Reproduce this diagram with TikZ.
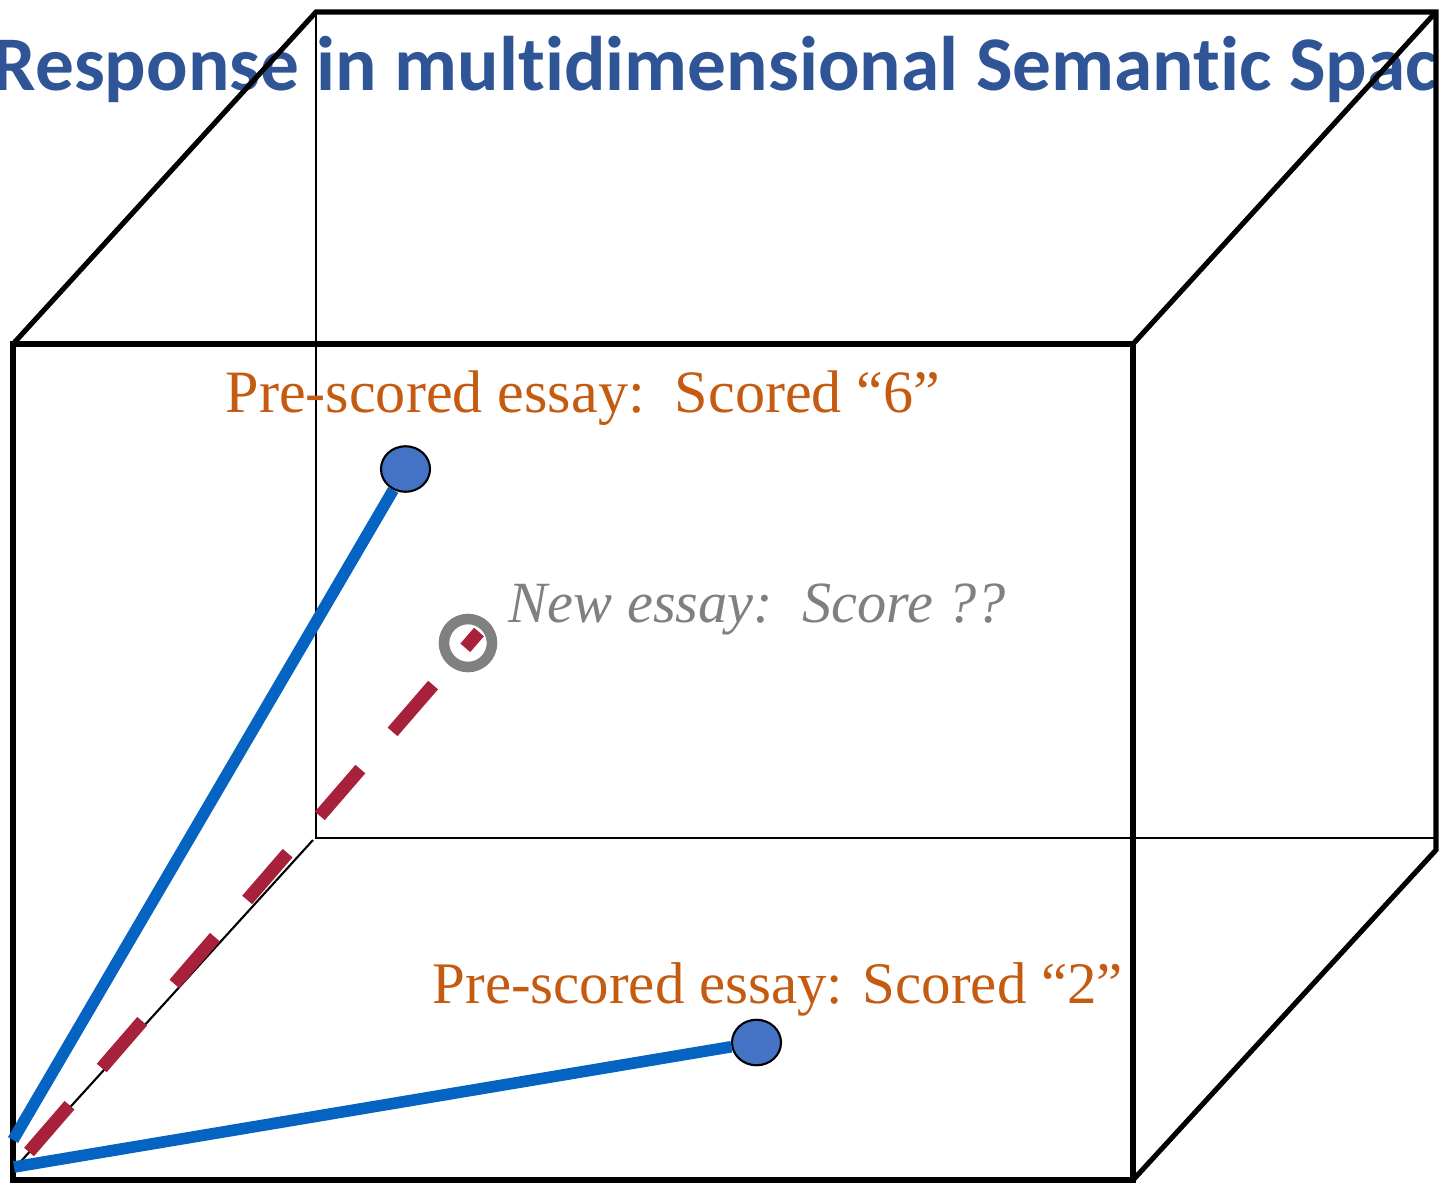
\documentclass[tikz,border=0pt]{standalone}
\usepackage{fontspec}
\setmainfont{Liberation Serif}
\newfontfamily\titlefont[Ligatures=NoCommon]{Carlito}
\usetikzlibrary{shapes.geometric,calc}
\definecolor{titleblue}{RGB}{47,85,151}
\definecolor{vecblue}{RGB}{5,99,193}
\definecolor{dotblue}{RGB}{68,114,196}
\definecolor{scoreorange}{RGB}{197,90,17}
\definecolor{newred}{RGB}{166,33,57}
\definecolor{newgray}{RGB}{128,128,128}

\begin{document}
\begin{tikzpicture}[x=0.01cm,y=-0.01cm,
  boxedge/.style={line width=1.45pt},
  hiddenedge/.style={line width=0.6pt},
  vec/.style={vecblue, line width=3.3pt},
  dot/.style={ellipse, draw=black, line width=0.6pt, fill=dotblue, inner sep=0pt,
    minimum width=0.49cm, minimum height=0.455cm},
  scorelabel/.style={anchor=base west, inner sep=0pt, text=scoreorange,
    font=\fontsize{17.1}{20}\selectfont}]
  \useasboundingbox (0,0) rectangle (1448,1184);
  % title, cut by the page edges
  \node[anchor=base west, inner sep=0pt, text=titleblue,
    font=\titlefont\bfseries\fontsize{22}{26}\selectfont] (title) at (-8,90)
    {Response in multidimensional Semantic Spac};
  % the box
  \coordinate (f1) at (13,344);
  \coordinate (f2) at (1133,344);
  \coordinate (f3) at (1133,1180);
  \coordinate (f4) at (13,1180);
  \coordinate (b1) at (316,12);
  \coordinate (b2) at (1436,12);
  \coordinate (b3) at (1436,850);
  \draw[hiddenedge] (b1) -- (316,838) -- (1436,838);
  \draw[hiddenedge] (13,1170) -- (313,840);
  \draw[boxedge] (f1) rectangle (f3);
  \draw[boxedge] (f1) -- (b1) -- (b2) -- (b3) -- (f3);
  \draw[boxedge] (f2) -- (b2);
  % essays
  \node[dot] (six) at (405.5,469) {};
  \node[dot] (two) at (756.5,1042.5) {};
  \node[circle, draw=newgray, line width=3pt, inner sep=0pt, minimum size=0.48cm] (new) at (468,643) {};
  \coordinate (o6) at (13,1140);
  \coordinate (o2) at (14,1167);
  \coordinate (onew) at (29,1152);
  \coordinate (newtip) at (479,632);
  \draw[vec] (o6) -- (six);
  \draw[vec] (o2) -- (two);
  \draw[newred, line width=3.7pt, dash pattern=on 17.6pt off 14pt] (onew) -- (newtip);
  \node[scorelabel] (lab6) at (225,412) {Pre-scored essay:\ \ Scored “6”};
  \node[scorelabel, font=\fontsize{16.75}{20}\selectfont] (lab2) at (432,1003) {Pre-scored essay: Scored “2”};
  \node[anchor=base west, inner sep=0pt, text=newgray,
    font=\itshape\fontsize{16.6}{20}\selectfont] (labnew) at (508,622) {New essay:\ \ Score ??};
\end{tikzpicture}
\end{document}
